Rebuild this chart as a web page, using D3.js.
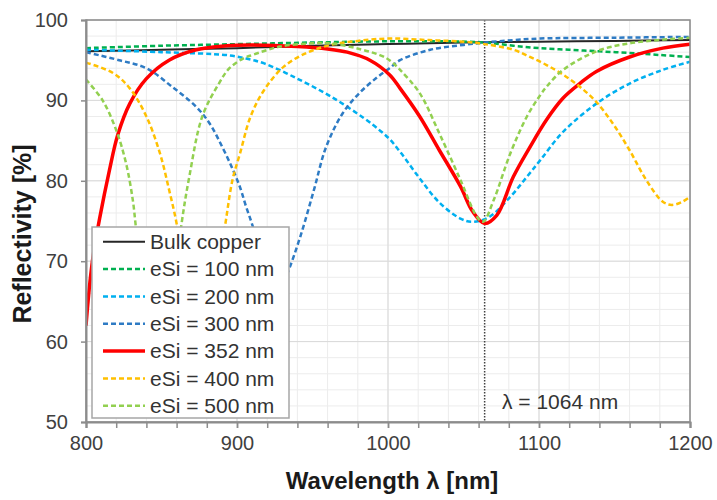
<html>
<meta charset="utf-8">
<script src="https://d3js.org/d3.v7.min.js"></script>
<style>
  body { margin: 0; background: #fff; }
  text { font-family: "Liberation Sans", Arial, sans-serif; }
</style>
<body>
<div id="chart"></div>
<script>
// values: wavelength (nm) and reflectivity (%)
const bulkWl = [800, 850, 900, 950, 1000, 1050, 1100, 1150, 1200];
const bulkR  = [96.1, 96.3, 96.5, 96.8, 97.0, 97.2, 97.3, 97.4, 97.5];

const e100Wl = [800, 850, 900, 950, 1000, 1040, 1064, 1083, 1100, 1120, 1140, 1160, 1180, 1200];
const e100R  = [96.5, 96.8, 97.0, 97.2, 97.35, 97.35, 97.2, 96.8, 96.5, 96.3, 96.1, 95.9, 95.65, 95.4];

const e200Wl = [800, 850, 895, 906, 918, 940, 962, 984, 995, 1001, 1008, 1021, 1034, 1048, 1056, 1067, 1081, 1092, 1101, 1116, 1138, 1160, 1182, 1200];
const e200R  = [96.3, 96.0, 95.6, 95.2, 94.6, 92.7, 90.5, 87.8, 86.2, 85.2, 83.6, 80.3, 77.3, 75.3, 74.9, 75.5, 78.0, 80.5, 82.6, 86.1, 89.6, 92.1, 93.8, 94.8];

const e300Wl = [800, 822, 840, 857, 873, 882, 890, 897, 902, 906, 911, 918, 926, 933, 942, 951, 959, 970, 981, 993, 1001, 1008, 1028, 1050, 1064, 1083, 1101, 1150, 1200];
const e300R  = [96.0, 95.0, 94.0, 91.7, 89.2, 87.1, 84.3, 81.5, 79.2, 76.8, 74.0, 68.8, 65.5, 68.3, 73.1, 78.9, 84.2, 88.4, 90.9, 92.9, 94.0, 95.0, 96.3, 96.9, 97.2, 97.5, 97.7, 97.8, 97.9];

const e352Wl = [800, 802.6, 805, 809, 815.5, 821, 829, 840, 855, 873, 893, 910, 940, 960, 973, 988, 1001, 1008, 1021, 1034, 1048, 1056, 1064, 1072, 1083, 1094, 1105, 1116, 1127, 1138, 1160, 1182, 1200];
const e352R  = [62.0, 67.4, 71.0, 75.3, 81.3, 85.7, 89.6, 92.7, 95.0, 96.3, 96.8, 96.9, 96.7, 96.4, 96.0, 95.0, 93.2, 91.5, 88.0, 83.8, 79.3, 76.2, 74.7, 75.7, 80.5, 84.2, 87.6, 90.3, 92.1, 93.6, 95.4, 96.5, 97.0];

const e400Wl = [800, 818, 829, 840, 849, 855, 860, 866, 871, 876, 881, 886, 892, 897, 902, 909, 918, 931, 946, 962, 980, 1001, 1027, 1050, 1064, 1083, 1094, 1105, 1116, 1127, 1138, 1149, 1160, 1171, 1182, 1188, 1195, 1200];
const e400R  = [94.7, 93.4, 91.5, 88.0, 83.4, 78.9, 74.7, 67.5, 63.0, 61.5, 63.0, 67.5, 74.3, 80.1, 83.4, 88.0, 91.3, 94.2, 95.9, 96.9, 97.4, 97.7, 97.5, 97.3, 97.0, 96.3, 95.4, 94.4, 93.2, 91.7, 89.8, 87.1, 83.8, 80.1, 77.4, 77.0, 77.4, 78.0];

const e500Wl = [800, 811, 820, 826.5, 831, 833, 838, 843, 848, 853, 858, 863, 868.4, 877, 888, 895, 904, 911, 928.5, 950, 962, 981, 995, 1001, 1008, 1021, 1034, 1048, 1059, 1063, 1070, 1081, 1092, 1101, 1105, 1116, 1138, 1160, 1200];
const e500R  = [92.6, 90.0, 86.3, 82.2, 77.6, 74.3, 66.0, 61.0, 59.5, 61.0, 66.5, 74.3, 80.5, 88.0, 92.1, 94.0, 95.2, 95.7, 96.7, 97.1, 97.1, 96.4, 95.6, 95.0, 93.8, 90.9, 85.9, 80.1, 75.5, 74.9, 77.6, 83.4, 88.0, 90.7, 91.7, 93.8, 96.1, 97.1, 97.8];

const seriesNames = ["Bulk copper", "eSi = 100 nm", "eSi = 200 nm", "eSi = 300 nm", "eSi = 352 nm", "eSi = 400 nm", "eSi = 500 nm"];
const xTicks = [800, 900, 1000, 1100, 1200];
const yTicks = [50, 60, 70, 80, 90, 100];
const laserWl = 1064;

const seriesData = [
  [bulkWl, bulkR], [e100Wl, e100R], [e200Wl, e200R], [e300Wl, e300R],
  [e352Wl, e352R], [e400Wl, e400R], [e500Wl, e500R]
].map(([w, r]) => w.map((d, i) => ({ wl: d, r: r[i] })));

const styles = [
  { color: "#262626", width: 2,   dash: null },
  { color: "#00b050", width: 2.5, dash: "5,3" },
  { color: "#00b0f0", width: 2.5, dash: "5,3" },
  { color: "#2e7bc4", width: 2.5, dash: "5,3" },
  { color: "#ff0000", width: 3.5, dash: null },
  { color: "#ffc000", width: 2.5, dash: "5,3" },
  { color: "#92d050", width: 2.5, dash: "5,3" }
];

const W = 717, H = 500;
const plot = { left: 86, right: 690, top: 20, bottom: 422 };

const x = d3.scaleLinear().domain([800, 1200]).range([plot.left, plot.right]);
const y = d3.scaleLinear().domain([50, 100]).range([plot.bottom, plot.top]);

const svg = d3.select('#chart').append('svg')
  .attr('width', W)
  .attr('height', H);

svg.append('rect').attr('width', W).attr('height', H).attr('fill', '#fff');

// gridlines, minor then major
const grid = svg.append('g');
grid.selectAll('.vminor').data(d3.range(800, 1201, 20))
  .enter().append('line')
  .attr('x1', d => x(d)).attr('x2', d => x(d))
  .attr('y1', plot.top).attr('y2', plot.bottom)
  .attr('stroke', '#ececec');
grid.selectAll('.hminor').data(d3.range(50, 101, 2))
  .enter().append('line')
  .attr('x1', plot.left).attr('x2', plot.right)
  .attr('y1', d => y(d)).attr('y2', d => y(d))
  .attr('stroke', '#ececec');
grid.selectAll('.vmajor').data(xTicks)
  .enter().append('line')
  .attr('x1', d => x(d)).attr('x2', d => x(d))
  .attr('y1', plot.top).attr('y2', plot.bottom)
  .attr('stroke', '#d9d9d9');
grid.selectAll('.hmajor').data(yTicks)
  .enter().append('line')
  .attr('x1', plot.left).attr('x2', plot.right)
  .attr('y1', d => y(d)).attr('y2', d => y(d))
  .attr('stroke', '#d9d9d9');

svg.append('clipPath').attr('id', 'plotclip')
  .append('rect')
  .attr('x', plot.left).attr('y', plot.top)
  .attr('width', plot.right - plot.left).attr('height', plot.bottom - plot.top);

// laser wavelength marker
svg.append('line')
  .attr('x1', x(laserWl)).attr('x2', x(laserWl))
  .attr('y1', plot.top).attr('y2', plot.bottom)
  .attr('stroke', '#404040')
  .attr('stroke-width', 1.5)
  .attr('stroke-dasharray', '1.5,1.5');

const line = d3.line()
  .x(d => x(d.wl))
  .y(d => y(d.r))
  .curve(d3.curveCatmullRom.alpha(0.5));

svg.append('g').attr('clip-path', 'url(#plotclip)')
  .selectAll('path').data(seriesData)
  .enter().append('path')
  .attr('d', line)
  .attr('fill', 'none')
  .attr('stroke', (d, i) => styles[i].color)
  .attr('stroke-width', (d, i) => styles[i].width)
  .attr('stroke-dasharray', (d, i) => styles[i].dash);

// plot frame
svg.append('rect')
  .attr('x', plot.left).attr('y', plot.top)
  .attr('width', plot.right - plot.left).attr('height', plot.bottom - plot.top)
  .attr('fill', 'none')
  .attr('stroke', '#8c8c8c')
  .attr('stroke-width', 1.5);

// axes
const xMinor = svg.append('g')
  .attr('transform', `translate(0, ${plot.bottom})`)
  .call(d3.axisBottom(x).tickValues(d3.range(800, 1201, 20)).tickSize(6).tickFormat(''));
xMinor.select('.domain').remove();
xMinor.selectAll('line').attr('stroke', '#8c8c8c').attr('stroke-width', 1.5);

const xAxis = svg.append('g')
  .attr('transform', `translate(0, ${plot.bottom})`)
  .call(d3.axisBottom(x).tickValues(xTicks).tickSize(6).tickPadding(8).tickFormat(d3.format('d')));
xAxis.select('.domain').attr('stroke', '#8c8c8c').attr('stroke-width', 2);
xAxis.selectAll('line').attr('stroke', '#8c8c8c').attr('stroke-width', 1.5);
xAxis.selectAll('text').attr('font-size', 20).attr('fill', '#404040')
  .style('font-family', '"Liberation Sans", Arial, sans-serif');

const yAxis = svg.append('g')
  .attr('transform', `translate(${plot.left}, 0)`)
  .call(d3.axisLeft(y).tickValues(yTicks).tickSize(5).tickPadding(13));
yAxis.select('.domain').attr('stroke', '#8c8c8c').attr('stroke-width', 2);
yAxis.selectAll('line').attr('stroke', '#8c8c8c').attr('stroke-width', 1.5);
yAxis.selectAll('text').attr('font-size', 20).attr('fill', '#404040')
  .style('font-family', '"Liberation Sans", Arial, sans-serif');

// axis titles
svg.append('text')
  .attr('x', 392).attr('y', 489)
  .attr('text-anchor', 'middle')
  .attr('font-size', 24).attr('font-weight', 'bold')
  .attr('fill', '#1a1a1a')
  .text('Wavelength λ [nm]');

svg.append('text')
  .attr('transform', 'translate(31, 234) rotate(-90)')
  .attr('text-anchor', 'middle')
  .attr('font-size', 25).attr('font-weight', 'bold')
  .attr('fill', '#1a1a1a')
  .text('Reflectivity [%]');

svg.append('text')
  .attr('x', 502).attr('y', 409)
  .attr('font-size', 21).attr('fill', '#333')
  .text('λ = 1064 nm');

// legend
const legend = svg.append('g');
legend.append('rect')
  .attr('x', 92).attr('y', 227)
  .attr('width', 197).attr('height', 191)
  .attr('fill', '#fff')
  .attr('stroke', '#a6a6a6')
  .attr('stroke-width', 1.5);

const rows = legend.selectAll('.row').data(seriesNames)
  .enter().append('g')
  .attr('transform', (d, i) => `translate(0, ${241.7 + i * 27.35})`);
rows.append('line')
  .attr('x1', 103).attr('x2', 145)
  .attr('stroke', (d, i) => styles[i].color)
  .attr('stroke-width', (d, i) => styles[i].width)
  .attr('stroke-dasharray', (d, i) => styles[i].dash);
rows.append('text')
  .attr('x', 150).attr('dy', '0.35em')
  .attr('font-size', 21).attr('fill', '#333')
  .text(d => d);
</script>
</body>
</html>
